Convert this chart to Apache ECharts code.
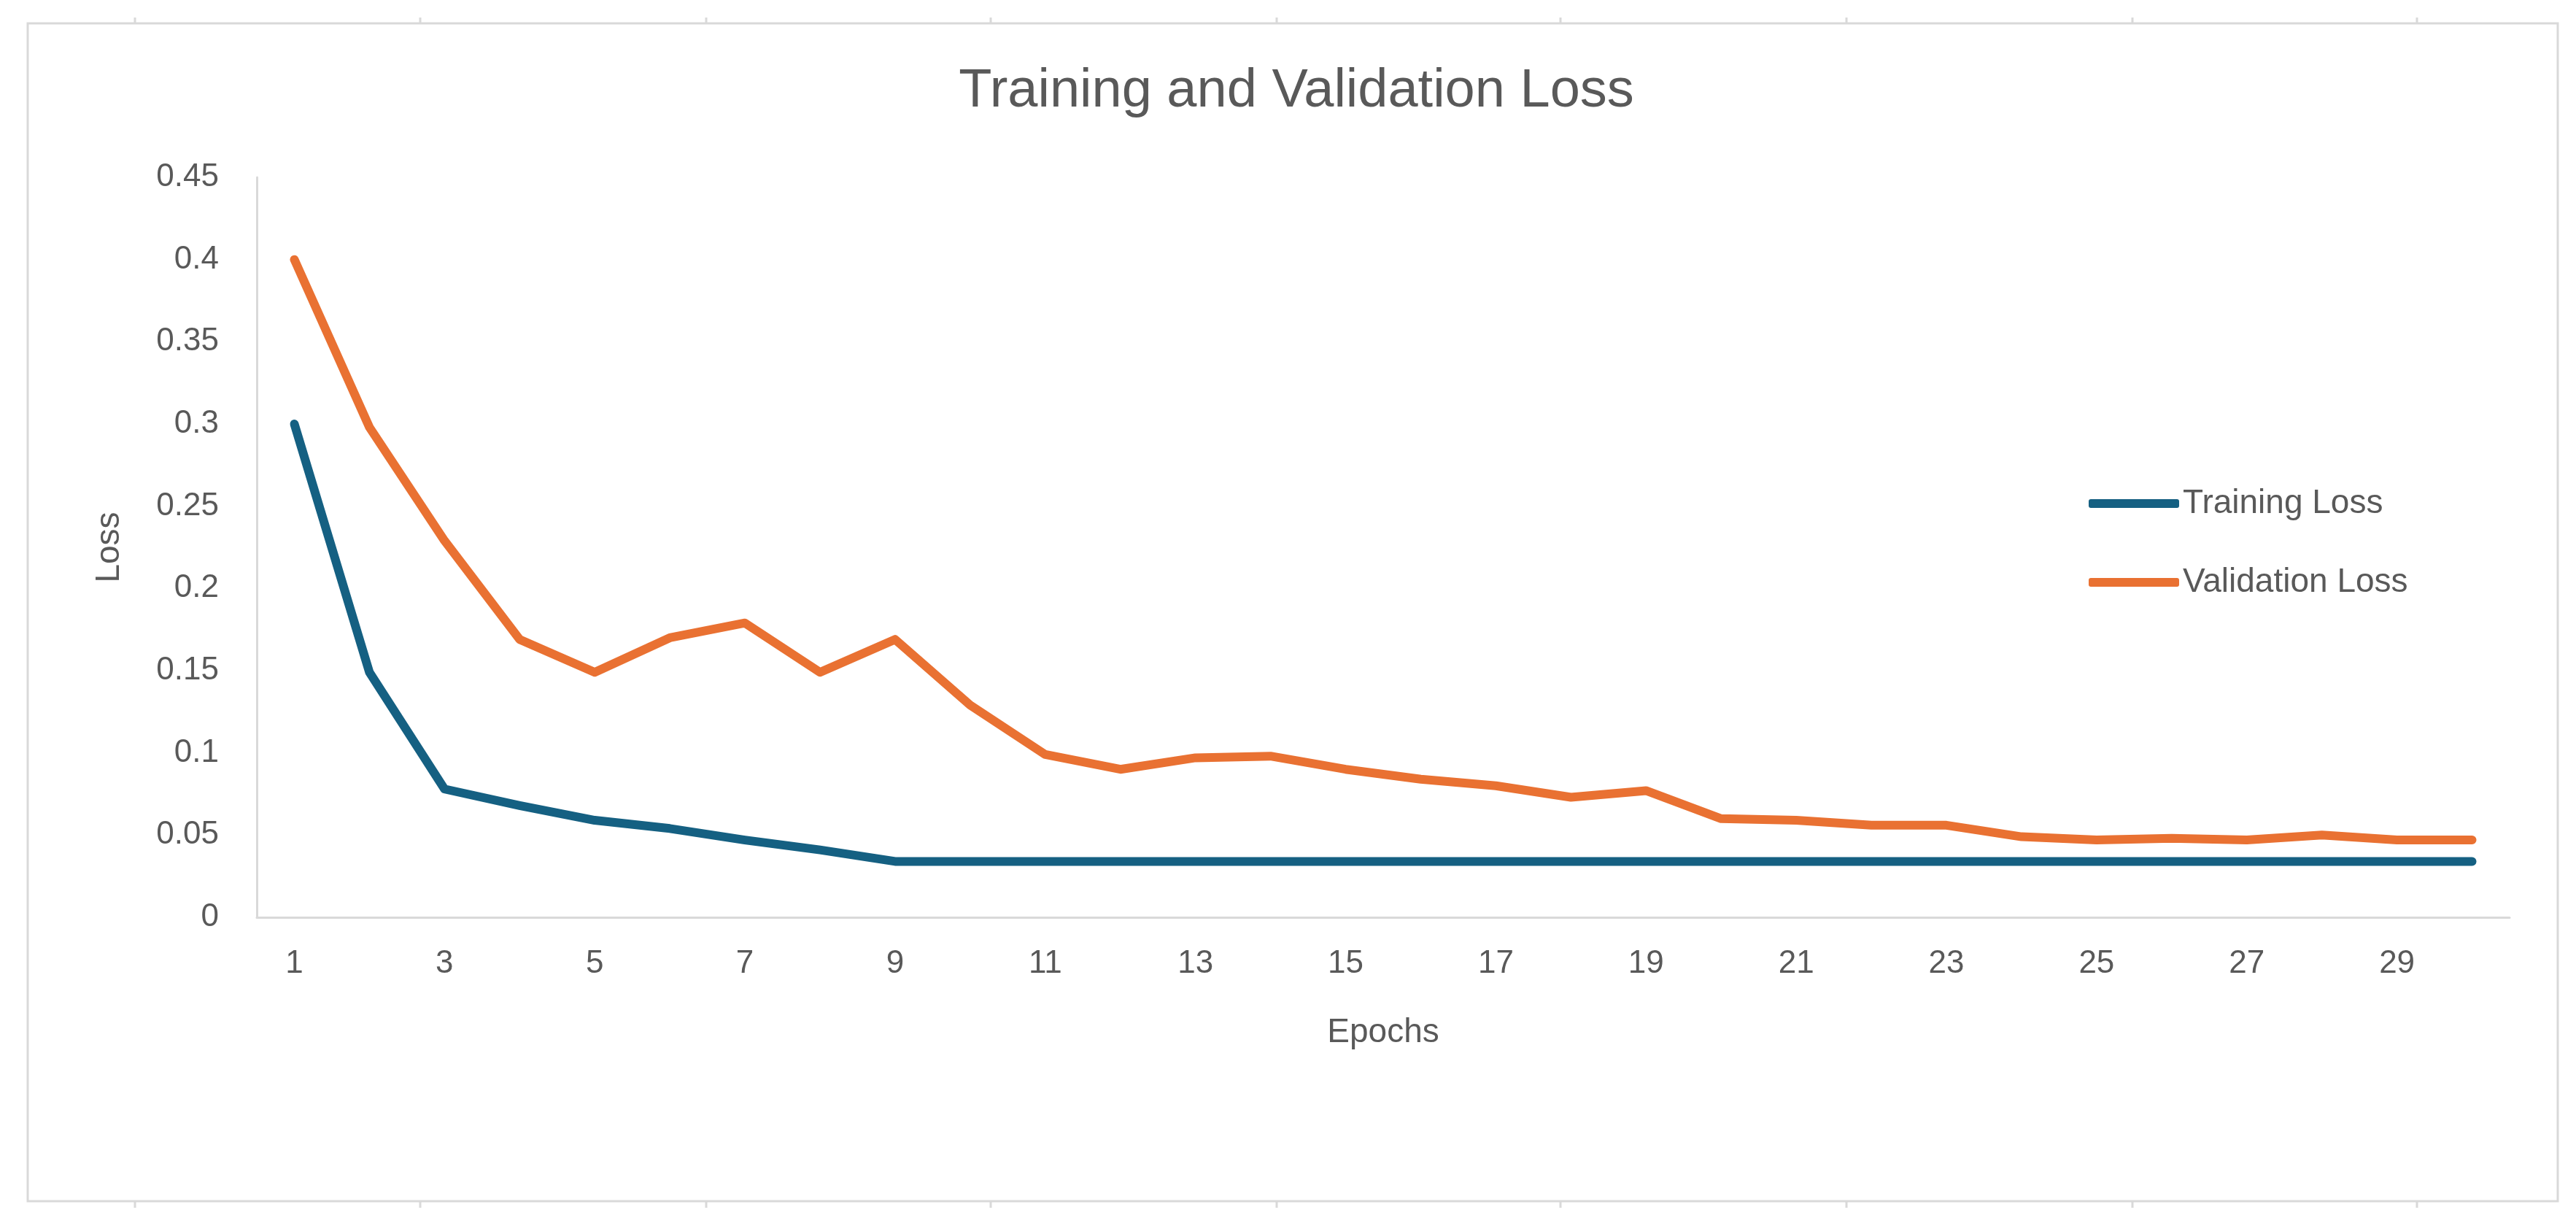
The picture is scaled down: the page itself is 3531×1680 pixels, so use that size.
<!DOCTYPE html>
<html>
<head>
<meta charset="utf-8">
<title>Training and Validation Loss</title>
<script src="https://cdn.jsdelivr.net/npm/echarts@6/dist/echarts.min.js"></script>
<style>
  html, body { margin: 0; padding: 0; background: #fff; }
  #chart { width: 3531px; height: 1680px; }
</style>
</head>
<body>
<div id="chart"></div>
<script>
// epochs on the x axis
const epochs = [1, 2, 3, 4, 5, 6, 7, 8, 9, 10, 11, 12, 13, 14, 15,
  16, 17, 18, 19, 20, 21, 22, 23, 24, 25, 26, 27, 28, 29, 30]

const trainingLoss = [0.30, 0.149, 0.078, 0.068, 0.059, 0.054, 0.047, 0.041, 0.034, 0.034,
  0.034, 0.034, 0.034, 0.034, 0.034, 0.034, 0.034, 0.034, 0.034, 0.034,
  0.034, 0.034, 0.034, 0.034, 0.034, 0.034, 0.034, 0.034, 0.034, 0.034]

const validationLoss = [0.40, 0.298, 0.229, 0.169, 0.149, 0.17, 0.179, 0.149, 0.169, 0.129,
  0.099, 0.09, 0.097, 0.098, 0.09, 0.084, 0.08, 0.073, 0.077, 0.06,
  0.059, 0.056, 0.056, 0.049, 0.047, 0.048, 0.047, 0.05, 0.047, 0.047]

const yMin = 0
const yMax = 0.45
const yStep = 0.05

const textColor = '#595959'
const axisColor = '#d9d9d9'
const font = 'Liberation Sans, Arial, sans-serif'

// page frame with the little ruler marks above and below
const rulerX = [185, 576, 968, 1358, 1750, 2139, 2531, 2923, 3313]
let frame = [{
  type: 'rect',
  shape: { x: 38, y: 32, width: 3468, height: 1614 },
  style: { fill: 'none', stroke: axisColor, lineWidth: 3 },
  silent: true
}]
rulerX.forEach(function (x) {
  frame.push({ type: 'line', shape: { x1: x, y1: 24, x2: x, y2: 32 }, style: { stroke: axisColor, lineWidth: 3 }, silent: true })
  frame.push({ type: 'line', shape: { x1: x, y1: 1646, x2: x, y2: 1655 }, style: { stroke: axisColor, lineWidth: 3 }, silent: true })
})

const chart = echarts.init(document.getElementById('chart'))
chart.setOption({
  backgroundColor: '#fff',
  animation: false,
  textStyle: { fontFamily: font },
  graphic: frame,
  title: {
    text: 'Training and Validation Loss',
    left: 1772,
    textAlign: 'center',
    top: 84,
    textStyle: { color: textColor, fontSize: 74, fontWeight: 'normal', fontFamily: font }
  },
  legend: {
    orient: 'vertical',
    left: 2858,
    top: 662,
    itemWidth: 124,
    itemHeight: 12,
    itemGap: 62,
    icon: 'roundRect',
    textStyle: { color: textColor, fontSize: 46, fontFamily: font },
    data: ['Training Loss', 'Validation Loss']
  },
  grid: {
    left: 352,
    right: 91,
    top: 243,
    bottom: 423,
    containLabel: false
  },
  xAxis: {
    type: 'category',
    data: epochs,
    boundaryGap: true,
    name: 'Epochs',
    nameLocation: 'middle',
    nameGap: 135,
    nameTextStyle: { color: textColor, fontSize: 46, fontFamily: font },
    axisLine: { lineStyle: { color: axisColor, width: 3 } },
    axisTick: { show: false },
    axisLabel: { interval: 1, color: textColor, fontSize: 44, margin: 42, fontFamily: font },
    splitLine: { show: false }
  },
  yAxis: {
    type: 'value',
    min: yMin,
    max: yMax,
    interval: yStep,
    name: 'Loss',
    nameLocation: 'middle',
    nameGap: 179,
    nameRotate: 90,
    nameTextStyle: { color: textColor, fontSize: 46, fontFamily: font },
    axisLine: { show: true, lineStyle: { color: axisColor, width: 3 } },
    axisTick: { show: false },
    axisLabel: {
      color: textColor,
      fontSize: 44,
      margin: 52,
      fontFamily: font,
      formatter: function (v) { return String(+v.toFixed(2)) }
    },
    splitLine: { show: false }
  },
  series: [
    {
      name: 'Training Loss',
      type: 'line',
      data: trainingLoss,
      showSymbol: false,
      symbol: 'none',
      color: '#156082',
      lineStyle: { width: 12, color: '#156082', cap: 'round', join: 'round' }
    },
    {
      name: 'Validation Loss',
      type: 'line',
      data: validationLoss,
      showSymbol: false,
      symbol: 'none',
      color: '#E97132',
      lineStyle: { width: 12, color: '#E97132', cap: 'round', join: 'round' }
    }
  ]
})
</script>
</body>
</html>
